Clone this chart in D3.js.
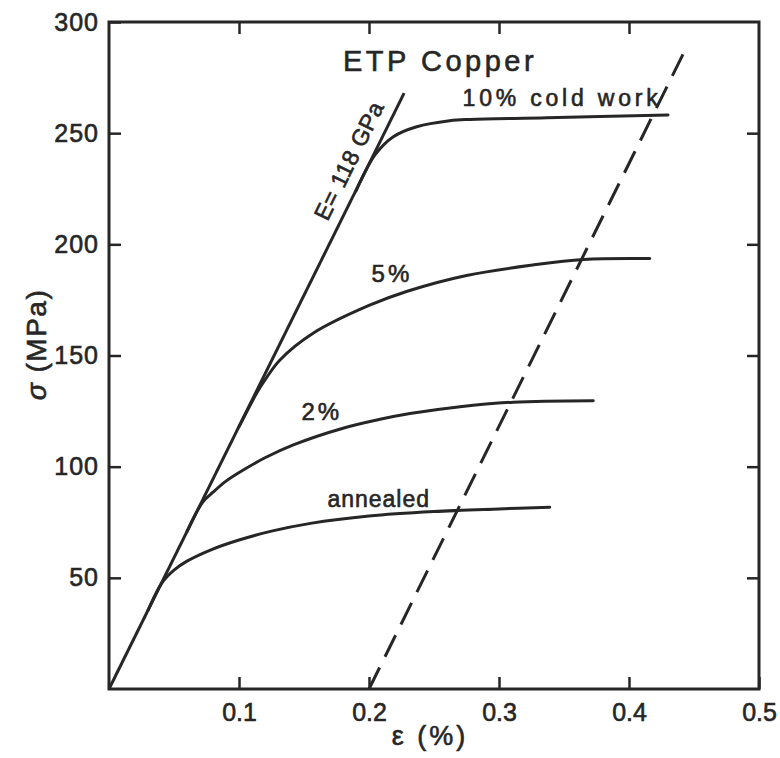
<!DOCTYPE html>
<html>
<head>
<meta charset="utf-8">
<script src="https://cdn.jsdelivr.net/npm/d3@7"></script>
<style>
  body { margin: 0; background: #fff; }
  svg { display: block; }
  text { font-family: 'Liberation Sans', Arial, sans-serif; fill: #262626; stroke: #262626; stroke-width: 0.6px; }
  .axis path, .axis line { stroke: #262626; stroke-width: 2.5; }
</style>
</head>
<body>
<div class="chart"></div>
<script>
'use strict';

// strain (%) / stress (MPa) pairs
const annealed = [
  [0.03, 35.4], [0.041, 48], [0.05, 53.5], [0.06, 57.5], [0.078, 62.5], [0.1, 67],
  [0.125, 71], [0.155, 74.5], [0.2, 77.8], [0.25, 79.8], [0.3, 81], [0.339, 81.8]
];
const cold2 = [
  [0.06, 70.8], [0.072, 84], [0.08, 88.5], [0.09, 93.5], [0.1033, 98.5], [0.12, 104],
  [0.1418, 109.8], [0.18, 117.3], [0.2085, 121.3], [0.2315, 123.9], [0.27, 127], [0.311, 129],
  [0.3725, 129.7]
];
const cold5 = [
  [0.1, 118], [0.114, 133.5], [0.12, 139], [0.1315, 148], [0.157, 160], [0.2, 172.5],
  [0.23, 179], [0.275, 186], [0.326, 190.7], [0.365, 193.2], [0.416, 193.6]
];
const cold10 = [
  [0.19, 224], [0.2046, 240.2], [0.2187, 248.4], [0.2367, 252.9], [0.262, 255.6],
  [0.2777, 256.2], [0.337, 256.9], [0.43, 258.2]
];
const elastic = [[0, 0], [0.227, 268]];      // E = 118 GPa
const offset = [[0.2, 0], [0.442, 286]];      // 0.2 % offset line

const xTicks = [0.1, 0.2, 0.3, 0.4, 0.5];
const yTicks = [50, 100, 150, 200, 250, 300];

const margin = { top: 22, right: 21, bottom: 69, left: 109 };
const FULL_WIDTH = 780;
const FULL_HEIGHT = 758;
const WIDTH = FULL_WIDTH - margin.left - margin.right;
const HEIGHT = FULL_HEIGHT - margin.top - margin.bottom;
const INK = '#262626';

const svg = d3.select('.chart')
  .append('svg')
    .attr('width', FULL_WIDTH)
    .attr('height', FULL_HEIGHT)
  .append('g')
    .attr('transform', 'translate(' + margin.left + ',' + margin.top + ')');

const x = d3.scaleLinear().domain([0, 0.5]).range([0, WIDTH]);
const y = d3.scaleLinear().domain([0, 300]).range([HEIGHT, 0]);

// frame
svg.append('rect')
  .attr('width', WIDTH)
  .attr('height', HEIGHT)
  .attr('fill', 'none')
  .attr('stroke', INK)
  .attr('stroke-width', 3);

// ticks point inward on all four sides
svg.append('g')
    .attr('class', 'axis')
    .attr('transform', 'translate(0,' + HEIGHT + ')')
    .call(d3.axisBottom(x).tickValues(xTicks).tickSize(-12).tickSizeOuter(0)
      .tickPadding(14).tickFormat(d3.format('.1f')))
    .call((g) => g.select('.domain').remove())
    .selectAll('text')
      .attr('font-size', '25px')
      .attr('fill', INK);

svg.append('g')
    .attr('class', 'axis')
    .call(d3.axisLeft(y).tickValues(yTicks).tickSize(-12).tickSizeOuter(0)
      .tickPadding(10))
    .call((g) => g.select('.domain').remove())
    .selectAll('text')
      .attr('font-size', '25px')
      .attr('letter-spacing', '1px')
      .attr('fill', INK);

svg.append('g')
    .attr('class', 'axis')
    .call(d3.axisTop(x).tickValues(xTicks.slice(0, 4)).tickSize(-12).tickSizeOuter(0)
      .tickFormat(''))
    .call((g) => g.select('.domain').remove());

svg.append('g')
    .attr('class', 'axis')
    .attr('transform', 'translate(' + WIDTH + ',0)')
    .call(d3.axisRight(y).tickValues(yTicks.slice(0, 5)).tickSize(-12).tickSizeOuter(0)
      .tickFormat(''))
    .call((g) => g.select('.domain').remove());

// axis titles
svg.append('text')
  .attr('transform', 'translate(' + (-63) + ',' + (HEIGHT / 2 - 11) + ') rotate(-90)')
  .attr('text-anchor', 'middle')
  .attr('font-size', '28px')
  .attr('letter-spacing', '1.5px')
  .html('<tspan font-style="italic">σ</tspan> (MPa)');

svg.append('text')
  .attr('x', 321)
  .attr('y', HEIGHT + 56)
  .attr('text-anchor', 'middle')
  .attr('font-size', '27px')
  .attr('letter-spacing', '3px')
  .text('ε (%)');

const line = d3.line()
  .x((d) => x(d[0]))
  .y((d) => y(d[1]));

const smooth = d3.line()
  .x((d) => x(d[0]))
  .y((d) => y(d[1]))
  .curve(d3.curveCatmullRom.alpha(0.5));

svg.append('path')
  .attr('d', line(elastic))
  .attr('fill', 'none')
  .attr('stroke', INK)
  .attr('stroke-width', 3);

svg.append('path')
  .attr('d', line(offset))
  .attr('fill', 'none')
  .attr('stroke', INK)
  .attr('stroke-width', 3)
  .attr('stroke-dasharray', '24,12');

[annealed, cold2, cold5, cold10].forEach((series) => {
  svg.append('path')
    .attr('d', smooth(series))
    .attr('fill', 'none')
    .attr('stroke', INK)
    .attr('stroke-width', 3)
    .attr('stroke-linecap', 'round');
});

// labels
const labels = [
  { text: 'ETP Copper', x: 0.18, y: 278, size: 29, spacing: 3.5 },
  { text: '10% cold work', x: 0.272, y: 262, size: 23, spacing: 3.8 },
  { text: '5%', x: 0.202, y: 183, size: 24, spacing: 3 },
  { text: '2%', x: 0.148, y: 121, size: 24, spacing: 3 },
  { text: 'annealed', x: 0.168, y: 82, size: 23, spacing: 1 }
];

svg.selectAll('.label')
  .data(labels)
  .enter()
  .append('text')
    .attr('class', 'label')
    .attr('x', (d) => x(d.x))
    .attr('y', (d) => y(d.y))
    .attr('font-size', (d) => d.size + 'px')
    .attr('letter-spacing', (d) => d.spacing + 'px')
    .text((d) => d.text);

// modulus label along the elastic line, on its upper-left side
const angle = Math.atan2(y(elastic[0][1]) - y(elastic[1][1]), x(elastic[1][0]) - x(elastic[0][0])) * 180 / Math.PI;
svg.append('text')
  .attr('transform', 'translate(' + x(0.168) + ',' + y(210) + ') rotate(' + (-angle) + ')')
  .attr('font-size', '23px')
  .attr('letter-spacing', '0.5px')
  .text('E= 118 GPa');
</script>
</body>
</html>
